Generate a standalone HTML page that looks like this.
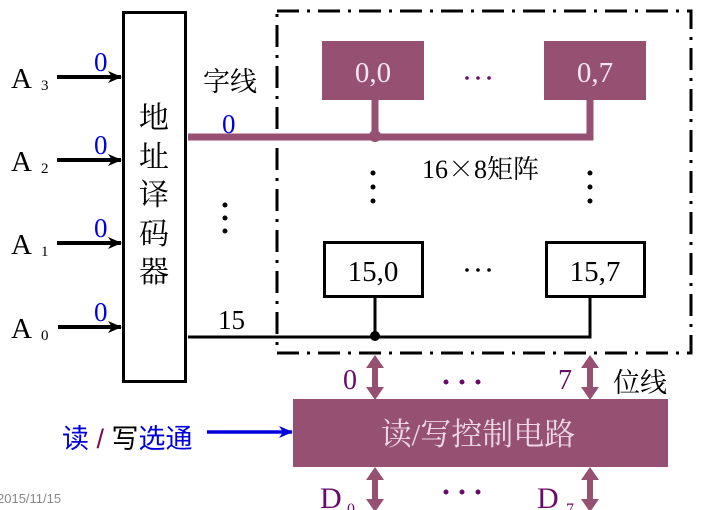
<!DOCTYPE html>
<html><head><meta charset="utf-8"><style>
html,body{margin:0;padding:0;background:#fff;}
svg{display:block;}
.s{font-family:"Liberation Serif","Noto Serif CJK SC",serif;}
.c{font-family:"Liberation Sans","Noto Sans CJK SC",sans-serif;}
</style></head><body>
<svg width="710" height="510" viewBox="0 0 710 510" xmlns="http://www.w3.org/2000/svg">
<defs>
<marker id="ab" markerWidth="14" markerHeight="12" refX="13" refY="6" orient="auto" markerUnits="userSpaceOnUse"><path d="M0,0 L14,6 L0,12 L4,6 z" fill="#000"/></marker>
<marker id="bl" markerWidth="14" markerHeight="12" refX="13" refY="6" orient="auto" markerUnits="userSpaceOnUse"><path d="M0,0 L14,6 L0,12 L4,6 z" fill="#0000dd"/></marker>
</defs>
<!-- dashed box -->
<rect x="277" y="11" width="414" height="342" fill="none" stroke="#000" stroke-width="3" stroke-dasharray="22,8,3,8"/>
<!-- decoder -->
<rect x="123.5" y="12.5" width="62" height="369" fill="#fff" stroke="#000" stroke-width="3"/>
<g class="s" font-size="30" fill="#000">
<text x="139" y="128">地</text><text x="139" y="167">址</text><text x="139" y="205">译</text><text x="139" y="244">码</text><text x="139" y="282">器</text>
</g>
<!-- A inputs -->
<g stroke="#000" stroke-width="4" marker-end="url(#ab)">
<line x1="57" y1="77" x2="121" y2="77"/><line x1="57" y1="160" x2="121" y2="160"/>
<line x1="57" y1="243" x2="121" y2="243"/><line x1="58" y1="327" x2="121" y2="327"/>
</g>
<g class="s" fill="#000">
<text x="11" y="88" font-size="29">A</text><text x="41" y="90" font-size="15">3</text>
<text x="11" y="171" font-size="29">A</text><text x="41" y="173" font-size="15">2</text>
<text x="11" y="254" font-size="29">A</text><text x="41" y="256" font-size="15">1</text>
<text x="11" y="338" font-size="29">A</text><text x="41" y="340" font-size="15">0</text>
</g>
<g class="s" fill="#0000dd" font-size="27">
<text x="94" y="71">0</text><text x="94" y="154">0</text><text x="94" y="237">0</text><text x="94" y="321">0</text>
<text x="222" y="133">0</text>
</g>
<text class="s" x="203" y="91" font-size="27">字线</text>
<text class="s" x="218" y="329" font-size="27">15</text>
<g fill="#000"><circle cx="225" cy="205" r="2.5"/><circle cx="225" cy="218" r="2.5"/><circle cx="225" cy="231" r="2.5"/>
<circle cx="373" cy="173" r="2.5"/><circle cx="373" cy="187" r="2.5"/><circle cx="373" cy="201" r="2.5"/>
<circle cx="590" cy="173" r="2.5"/><circle cx="590" cy="187" r="2.5"/><circle cx="590" cy="201" r="2.5"/>
<circle cx="467" cy="270" r="1.8"/><circle cx="478" cy="270" r="1.8"/><circle cx="489" cy="270" r="1.8"/></g>
<g fill="#6a0a6a"><circle cx="467" cy="78" r="1.8"/><circle cx="478" cy="78" r="1.8"/><circle cx="489" cy="78" r="1.8"/>
<circle cx="446" cy="382" r="2.5"/><circle cx="462" cy="382" r="2.5"/><circle cx="478" cy="382" r="2.5"/>
<circle cx="446" cy="492" r="2.5"/><circle cx="462" cy="492" r="2.5"/><circle cx="478" cy="492" r="2.5"/></g>
<!-- cells -->
<rect x="322" y="41" width="102" height="59" fill="#955072"/>
<rect x="544" y="41" width="102" height="59" fill="#955072"/>
<g class="s" font-size="29" fill="#f3e6ee" text-anchor="middle"><text x="373" y="82">0,0</text><text x="595" y="82">0,7</text></g>
<path d="M188,137 H590 V100 M375,100 V137" fill="none" stroke="#955072" stroke-width="7"/>
<circle cx="375" cy="136" r="6" fill="#955072"/>
<text class="s" x="422" y="178" font-size="26">16<tspan font-family="Noto Serif CJK SC">×</tspan>8矩阵</text>
<rect x="324.5" y="242.5" width="98" height="54" fill="#fff" stroke="#000" stroke-width="3"/>
<rect x="546.5" y="242.5" width="98" height="54" fill="#fff" stroke="#000" stroke-width="3"/>
<g class="s" font-size="29" fill="#000" text-anchor="middle"><text x="373" y="281">15,0</text><text x="595" y="281">15,7</text></g>
<path d="M188,337 H590 V297 M375,297 V337" fill="none" stroke="#000" stroke-width="3"/>
<circle cx="375" cy="336" r="5" fill="#000"/>
<!-- bit line arrows -->
<g fill="#955072">
<path d="M375,355 L384,368 L378,368 L378,387 L384,387 L375,400 L366,387 L372,387 L372,368 L366,368 z"/>
<path d="M590,355 L599,368 L593,368 L593,387 L599,387 L590,400 L581,387 L587,387 L587,368 L581,368 z"/>
<path d="M375,467 L384,480 L378,480 L378,499 L384,499 L375,512 L366,499 L372,499 L372,480 L366,480 z"/>
<path d="M590,467 L599,480 L593,480 L593,499 L599,499 L590,512 L581,499 L587,499 L587,480 L581,480 z"/>
</g>
<g class="s" fill="#6a0a6a">
<text x="343" y="389" font-size="28">0</text><text x="558" y="389" font-size="28">7</text>
<text x="320" y="508" font-size="30">D</text><text x="347" y="514" font-size="16">0</text>
<text x="537" y="508" font-size="30">D</text><text x="566" y="514" font-size="16">7</text>
</g>
<text class="s" x="613" y="392" font-size="27" fill="#000">位线</text>
<!-- control -->
<rect x="293" y="399" width="375" height="68" fill="#955072"/>
<text class="s" x="478" y="445" font-size="31" fill="#ecd8e3" text-anchor="middle">读/写控制电路</text>
<text class="c" x="62" y="448" font-size="27" fill="#0000dd">读 <tspan fill="#7a0a50">/</tspan> <tspan fill="#000">写</tspan>选通</text>
<line x1="207" y1="432" x2="292" y2="432" stroke="#0000dd" stroke-width="3.5" marker-end="url(#bl)"/>
<text class="c" x="-3" y="503" font-size="13" fill="#888">2015/11/15</text>
</svg>
</body></html>
